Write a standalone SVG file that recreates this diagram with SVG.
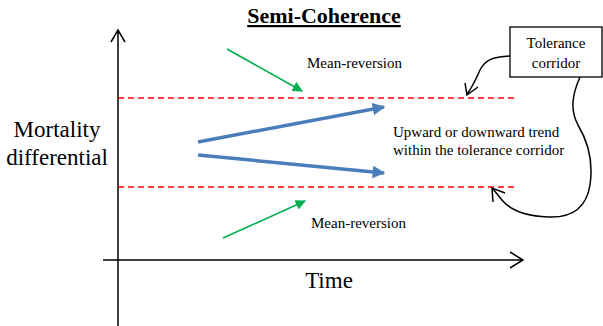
<svg xmlns="http://www.w3.org/2000/svg" width="603" height="326" viewBox="0 0 603 326">
<style>
text{font-family:"Liberation Serif","Times New Roman",serif;fill:#000}
.lbl{font-size:15px}
.big{font-size:23px}
.axis{stroke:#000;stroke-width:1.5;fill:none}
.red{stroke:#ff0000;stroke-width:1.3;stroke-dasharray:6,4;fill:none}
.blue{stroke:#4a7ebb;stroke-width:3.5;fill:none}
.green{stroke:#00b050;stroke-width:1.6;fill:none}
.curve{stroke:#000;stroke-width:1.5;fill:none}
</style>
<defs>
<marker id="blueHead" viewBox="0 0 10 10" refX="9" refY="5" markerWidth="3.6" markerHeight="4.2" orient="auto" markerUnits="strokeWidth">
<path d="M0,0 L10,5 L0,10 Z" fill="#4a7ebb"/>
</marker>
<marker id="greenHead" viewBox="0 0 10 10" refX="9" refY="5" markerWidth="6.5" markerHeight="7" orient="auto" markerUnits="strokeWidth">
<path d="M0,0 L10,5 L0,10 Z" fill="#00b050"/>
</marker>
</defs>
<rect width="603" height="326" fill="#fff"/>
<g id="title">
<text x="324" y="23" text-anchor="middle" font-size="22" font-weight="bold" text-decoration="underline">Semi-Coherence</text>
</g>
<g id="axes">
<path class="axis" d="M118,326 L118,30 M111,42 L118,30 L125,42"/>
<path class="axis" d="M103,260 L523,260 M510,252 L523,260 L510,268"/>
</g>
<g id="y-label">
<text class="big" x="57" y="137" text-anchor="middle">Mortality</text>
<text class="big" x="57" y="165" text-anchor="middle">differential</text>
</g>
<g id="x-label">
<text class="big" x="329" y="288" text-anchor="middle">Time</text>
</g>
<g id="corridor-lines">
<line class="red" x1="118" y1="98" x2="515" y2="98"/>
<line class="red" x1="118" y1="187" x2="515" y2="187"/>
</g>
<g id="tolerance-box">
<rect x="510" y="27" width="92" height="50" fill="#fff" stroke="#000" stroke-width="1.3"/>
<text class="lbl" x="556" y="48" text-anchor="middle">Tolerance</text>
<text class="lbl" x="556" y="68" text-anchor="middle">corridor</text>
</g>
<g id="trend-label">
<text class="lbl" x="393" y="137">Upward or downward trend</text>
<text class="lbl" x="393" y="155">within the tolerance corridor</text>
</g>
<g id="mean-reversion-top">
<text class="lbl" x="307" y="68">Mean-reversion</text>
</g>
<g id="mean-reversion-bottom">
<text class="lbl" x="311" y="228">Mean-reversion</text>
</g>
<g id="connectors">
<line class="blue" x1="198" y1="142" x2="384" y2="107" marker-end="url(#blueHead)"/>
<line class="blue" x1="198" y1="155" x2="384" y2="173" marker-end="url(#blueHead)"/>
<line class="green" x1="227" y1="49" x2="302" y2="91" marker-end="url(#greenHead)"/>
<line class="green" x1="223" y1="238" x2="305" y2="201" marker-end="url(#greenHead)"/>
<path class="curve" d="M510,56 C492,57 485,60 480,70 C476,79 472,88 467,94"/>
<path class="curve" d="M465,83 L467,95 L478,87"/>
<path class="curve" d="M580,77 C572,95 570,110 578,125 C590,145 593,165 590,185 C586,210 570,218 548,217 C525,216 510,210 502,200 L493,189"/>
<path class="curve" d="M493,202 L492,188 L505,193"/>
</g>
</svg>
